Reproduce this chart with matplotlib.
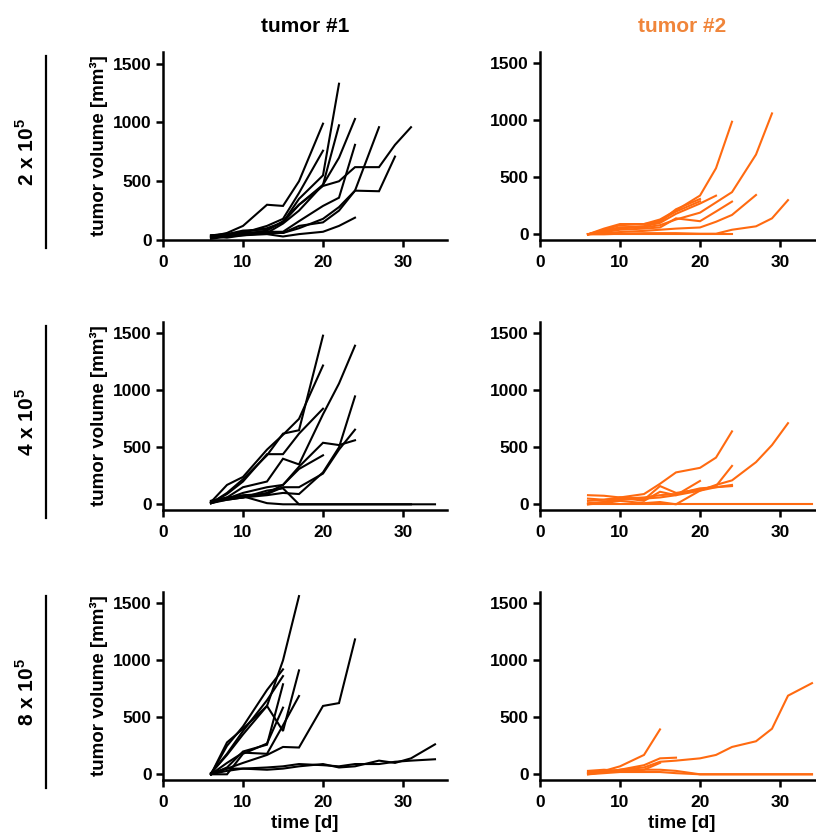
import numpy as np
import matplotlib
matplotlib.use("Agg")
import matplotlib.pyplot as plt
from matplotlib.lines import Line2D

plt.rcParams['font.family'] = ['Liberation Sans', 'DejaVu Sans']
plt.rcParams['font.weight'] = 'bold'
plt.rcParams['mathtext.fontset'] = 'custom'
plt.rcParams['mathtext.rm'] = 'Liberation Sans:bold'
plt.rcParams['mathtext.bf'] = 'Liberation Sans:bold'

# measurement days; each curve runs from day 6 until the animal left the study
days = [6, 8, 10, 13, 15, 17, 20, 22, 24, 27, 29, 31, 34]

t1_2e5 = [
    [30, 60, 120, 300, 290, 500, 990],
    [40, 50, 60, 120, 180, 400, 760],
    [20, 40, 70, 100, 150, 350, 550, 1330],
    [30, 50, 80, 90, 150, 300, 470, 976],
    [20, 30, 40, 60, 140, 250, 470, 700, 1030],
    [10, 30, 60, 70, 70, 160, 290, 360, 810],
    [30, 20, 40, 50, 30, 50, 70, 120, 190],
    [20, 40, 50, 60, 60, 100, 180, 280, 420, 960],
    [30, 40, 60, 60, 60, 120, 150, 250, 420, 415, 710],
    [40, 50, 50, 80, 160, 300, 460, 500, 620, 620, 810, 960],
]
t1_4e5 = [
    [10, 100, 220, 430, 620, 650, 1480],
    [20, 170, 240, 480, 610, 750, 1218],
    [10, 90, 200, 440, 440, 620, 839],
    [20, 50, 100, 150, 170, 310, 430],
    [10, 60, 150, 200, 400, 350, 790, 1060, 1392],
    [20, 40, 60, 80, 100, 90, 280, 500, 947],
    [30, 50, 80, 90, 150, 150, 270, 480, 655],
    [10, 40, 60, 100, 170, 330, 540, 520, 562],
    [10, 50, 60, 120, 140, 0, 0, 0, 0, 0, 0, 0, 0],
    [30, 60, 70, 10, 0, 0, 0, 0, 0, 0, 0, 0],
]
t1_8e5 = [
    [0, 280, 400, 600, 1000, 1564],
    [10, 170, 350, 600, 380, 912],
    [0, 100, 190, 180, 430, 687],
    [0, 250, 420, 740, 921],
    [10, 180, 380, 650, 862],
    [0, 60, 200, 260, 790],
    [0, 0, 180, 270, 585],
    [0, 50, 100, 170, 240, 235, 600, 625, 1184],
    [10, 50, 50, 40, 50, 70, 90, 60, 70, 120, 100, 140, 263],
    [0, 30, 50, 60, 70, 90, 80, 70, 90, 90, 110, 120, 132],
]
t2_2e5 = [
    [0, 40, 80, 90, 130, 210, 340, 580, 988],
    [0, 30, 60, 60, 80, 130, 190, 280, 370, 700, 1061],
    [0, 20, 50, 70, 100, 180, 270, 339],
    [0, 10, 20, 30, 40, 50, 60, 110, 170, 345],
    [0, 20, 40, 50, 60, 140, 115, 200, 287],
    [0, 0, 5, 10, 10, 10, 5, 5, 40, 70, 140, 300],
    [0, 0, 0, 0, 0, 0, 0, 0, 0],
    [0, 50, 90, 90, 110, 220, 310],
    [0, 30, 60, 70, 120, 200, 290],
]
t2_4e5 = [
    [80, 75, 60, 90, 180, 280, 320, 410, 640],
    [10, 20, 40, 50, 60, 80, 120, 170, 210, 370, 520, 712],
    [30, 40, 60, 40, 160, 100, 130, 160, 337],
    [0, 20, 60, 30, 110, 80, 205],
    [0, 10, 30, 10, 20, 0, 120, 150, 160],
    [0, 0, 0, 0, 0, 0, 0, 0, 0, 0, 0, 0, 0],
    [50, 40, 50, 60, 80, 90, 140, 150, 170],
]
t2_8e5 = [
    [20, 30, 70, 170, 394],
    [10, 20, 40, 60, 110, 120, 140, 170, 240, 290, 400, 690, 800],
    [0, 20, 40, 80, 140, 146],
    [10, 20, 30, 40, 100],
    [30, 40, 30, 40, 40, 30, 0, 0, 0, 0, 0, 0, 0],
    [0, 10, 20, 20, 20, 10, 0, 0, 0, 0, 0, 0, 0],
]

row_labels = ['2 x 10$^{5}$', '4 x 10$^{5}$', '8 x 10$^{5}$']
col_titles = ['tumor #1', 'tumor #2']
yticks = [0, 500, 1000, 1500]
xticks = [0, 10, 20, 30]

black = '#000000'
orange = '#FF6A10'
title_orange = '#F0853A'

panels = [[t1_2e5, t2_2e5], [t1_4e5, t2_4e5], [t1_8e5, t2_8e5]]
line_colors = [black, orange]

W, H = 816, 834
fig = plt.figure(figsize=(W / 100, H / 100), dpi=100)

# axes boxes in pixels
col_left = [163, 540]
ax_w = 284
row_top = [52, 322, 592]
ax_h = 188

for r in range(3):
    for c in range(2):
        x0 = col_left[c] / W
        y0 = 1 - (row_top[r] + ax_h) / H
        ax = fig.add_axes([x0, y0, ax_w / W, ax_h / H])
        for vals in panels[r][c]:
            ax.plot(days[:len(vals)], vals, color=line_colors[c], lw=1.5,
                    solid_joinstyle='miter', clip_on=False)
        ax.set_xlim(0, 35.5)
        ax.set_ylim(0 if (r == 0 and c == 0) else -50, 1600)
        ax.set_xticks(xticks)
        ax.set_yticks(yticks)
        for side in ['top', 'right']:
            ax.spines[side].set_visible(False)
        for side in ['left', 'bottom']:
            ax.spines[side].set_linewidth(1.8)
            ax.spines[side].set_color(black)
        ax.tick_params(width=1.8, length=5, labelsize=12.5, colors=black)
        ax.tick_params(axis='x', pad=6)
        ax.tick_params(axis='y', pad=3)
        for lab in ax.get_xticklabels() + ax.get_yticklabels():
            lab.set_fontweight('bold')
        if c == 0:
            ax.set_ylabel('tumor volume [mm³]', fontsize=13.5, fontweight='bold')
            ax.yaxis.set_label_coords(-0.194, 0.5)
        if r == 2:
            ax.set_xlabel('time [d]', fontsize=13.5, fontweight='bold')
            ax.xaxis.set_label_coords(0.5, -0.188)

    # row label with a bar next to it
    top = row_top[r] + 4
    bot = row_top[r] + ax_h + 8
    fig.add_artist(Line2D([46 / W, 46 / W], [1 - top / H, 1 - bot / H],
                          color=black, lw=1.6))
    fig.text(27 / W, 1 - (top + bot) / 2 / H, row_labels[r], rotation=90,
             ha='center', va='center', fontsize=15, fontweight='bold', color=black)

fig.text((col_left[0] + ax_w / 2) / W, 1 - 27 / H, col_titles[0], ha='center',
         va='center', fontsize=15, fontweight='bold', color=black)
fig.text((col_left[1] + ax_w / 2) / W, 1 - 27 / H, col_titles[1], ha='center',
         va='center', fontsize=15, fontweight='bold', color=title_orange)

fig.savefig('out.png', dpi=100)
